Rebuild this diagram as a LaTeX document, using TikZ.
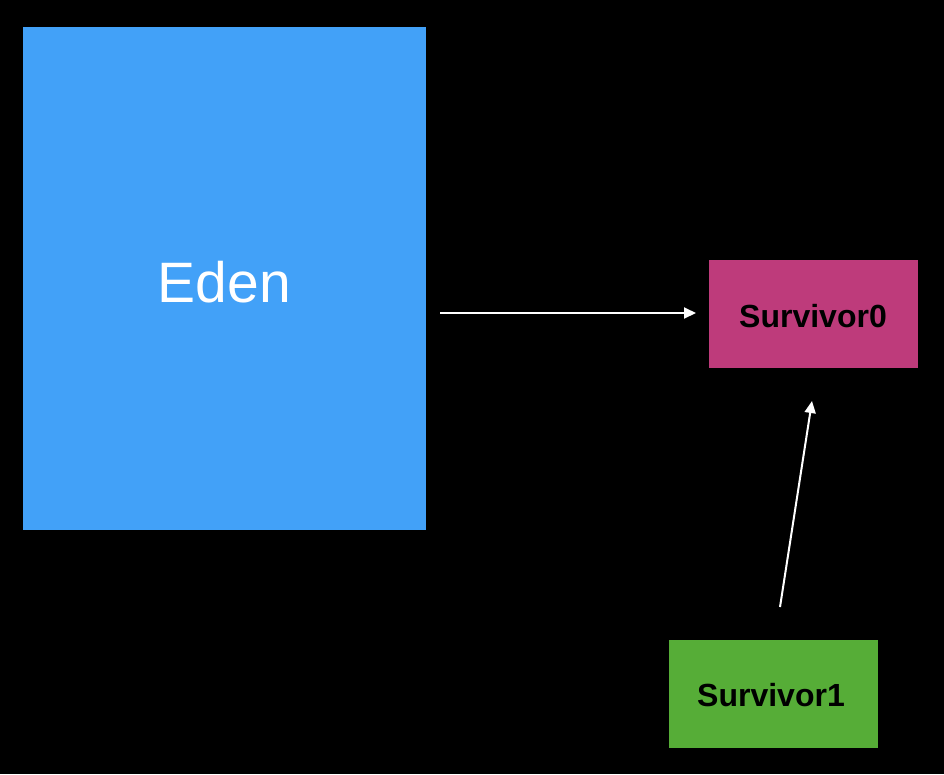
\documentclass[tikz,border=0pt]{standalone}
\usepackage{fontspec}
\setmainfont{Liberation Sans}
\usetikzlibrary{arrows.meta}
\definecolor{edenblue}{HTML}{42A1F8}
\definecolor{survpink}{HTML}{BE3B7B}
\definecolor{survgreen}{HTML}{56AD37}
\begin{document}
\begin{tikzpicture}[x=1pt,y=-1pt,
  box/.style={draw=none,inner sep=0pt,outer sep=0pt},
  lbl/.style={font=\bfseries\fontsize{32}{34}\selectfont},
  conn/.style={draw=white,line width=2pt,-{Triangle[length=12pt,width=11pt]}}]
\fill[black] (0,0) rectangle (944,774);
\useasboundingbox (0,0) rectangle (944,774);
\node[box,fill=edenblue,minimum width=403pt,minimum height=503pt] (eden) at (224.5,278.5) {};
\node[text=white,font=\fontsize{57}{60}\selectfont] at (224.5,282) {Eden};
\node[box,fill=survpink,minimum width=209pt,minimum height=108pt] (s0) at (813.5,314) {};
\node[lbl] at (813,316) {Survivor0};
\node[box,fill=survgreen,minimum width=209pt,minimum height=108pt] (s1) at (773.5,694) {};
\node[lbl] at (771,695) {Survivor1};
\coordinate (a1s) at (440,313);
\coordinate (a1e) at (696,313);
\coordinate (a2s) at (780,607);
\coordinate (a2e) at (812,401);
\draw[conn] (a1s) -- (a1e);
\draw[conn] (a2s) -- (a2e);
\end{tikzpicture}
\end{document}
